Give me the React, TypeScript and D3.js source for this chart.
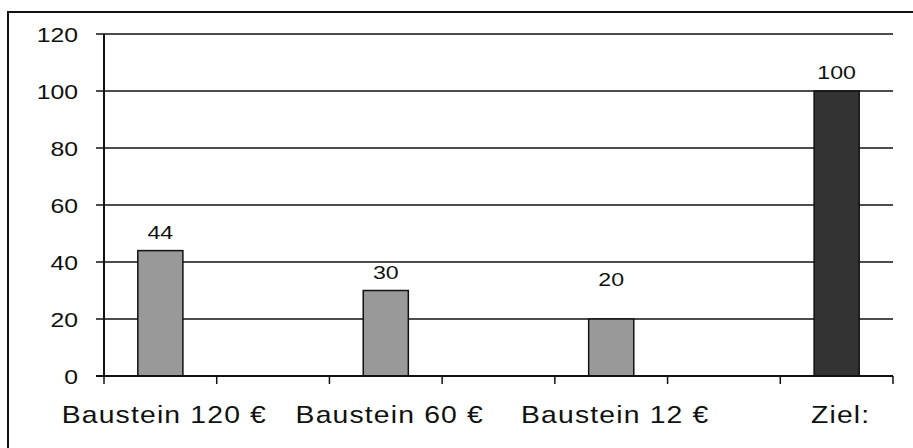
import { useEffect, useRef } from 'react';
import * as d3 from 'd3';

// categories: the source chart has empty slots between the labelled bars
const categories = ['Baustein 120 €', '', 'Baustein 60 €', '', 'Baustein 12 €', '', 'Ziel:'];
const values: (number | null)[] = [44, null, 30, null, 20, null, 100];
const yTicks = [0, 20, 40, 60, 80, 100, 120];

const WIDTH = 913;
const HEIGHT = 448;

export default function App() {
  const svgRef = useRef<SVGSVGElement>(null);

  useEffect(() => {
    if (!svgRef.current) return;
    const svg = d3.select(svgRef.current);
    svg.selectAll('*').remove();

    const left = 104;
    const right = 893;
    const top = 34;
    const bottom = 376;
    const font = '"Liberation Sans", Arial, sans-serif';
    const sx = 1.18; // source text is a bit stretched horizontally

    // outer frame (runs off the right/bottom of the picture)
    svg.append('rect')
      .attr('x', 8).attr('y', 12).attr('width', 1000).attr('height', 1000)
      .attr('fill', 'white').attr('stroke', '#111').attr('stroke-width', 2);

    const x = d3.scaleBand<number>().domain(d3.range(categories.length)).range([left, right]);
    const y = d3.scaleLinear().domain([0, 120]).range([bottom, top]);

    // gridlines + y ticks
    yTicks.forEach(t => {
      svg.append('line')
        .attr('x1', left - 8).attr('x2', t === 0 ? left : right)
        .attr('y1', y(t)).attr('y2', y(t))
        .attr('stroke', '#111').attr('stroke-width', 1.3);
      svg.append('text')
        .attr('transform', `translate(${left - 26},${y(t) + 7.5}) scale(${sx},1)`)
        .attr('text-anchor', 'end')
        .attr('font-family', font).attr('font-size', 21).attr('fill', '#111')
        .text(t);
    });

    // bars
    const bw = x.bandwidth() * 0.4;
    values.forEach((v, i) => {
      if (v == null) return;
      const cx = x(i)! + x.bandwidth() / 2;
      svg.append('rect')
        .attr('x', cx - bw / 2).attr('y', y(v))
        .attr('width', bw).attr('height', y(0) - y(v))
        .attr('fill', i === values.length - 1 ? '#333333' : '#999999')
        .attr('stroke', '#111').attr('stroke-width', 1.5);
      // third label floats higher in the source
      const lift = i === 4 ? 33 : 12;
      svg.append('text')
        .attr('transform', `translate(${cx},${y(v) - lift}) scale(1.22,1)`)
        .attr('text-anchor', 'middle')
        .attr('font-family', font).attr('font-size', 19).attr('fill', '#111')
        .text(v);
    });

    // axes
    svg.append('line')
      .attr('x1', left).attr('x2', left).attr('y1', top).attr('y2', bottom)
      .attr('stroke', '#111').attr('stroke-width', 2);
    svg.append('line')
      .attr('x1', left - 8).attr('x2', right).attr('y1', bottom).attr('y2', bottom)
      .attr('stroke', '#111').attr('stroke-width', 2);
    d3.range(categories.length + 1).forEach(i => {
      const tx = left + i * x.step();
      svg.append('line')
        .attr('x1', tx).attr('x2', tx).attr('y1', bottom).attr('y2', bottom + 8)
        .attr('stroke', '#111').attr('stroke-width', 1.5);
    });

    // category labels
    categories.forEach((c, i) => {
      if (!c) return;
      const cx = x(i)! + x.bandwidth() / 2;
      svg.append('text')
        .attr('transform', `translate(${cx + 4},${bottom + 47}) scale(${sx},1)`)
        .attr('text-anchor', 'middle')
        .attr('font-family', font).attr('font-size', 24).attr('letter-spacing', 1)
        .attr('fill', '#111')
        .text(c);
    });
  }, []);

  return (
    <svg
      ref={svgRef}
      width={WIDTH}
      height={HEIGHT}
      style={{ position: 'absolute', left: 0, top: 0, background: 'white' }}
    />
  );
}
